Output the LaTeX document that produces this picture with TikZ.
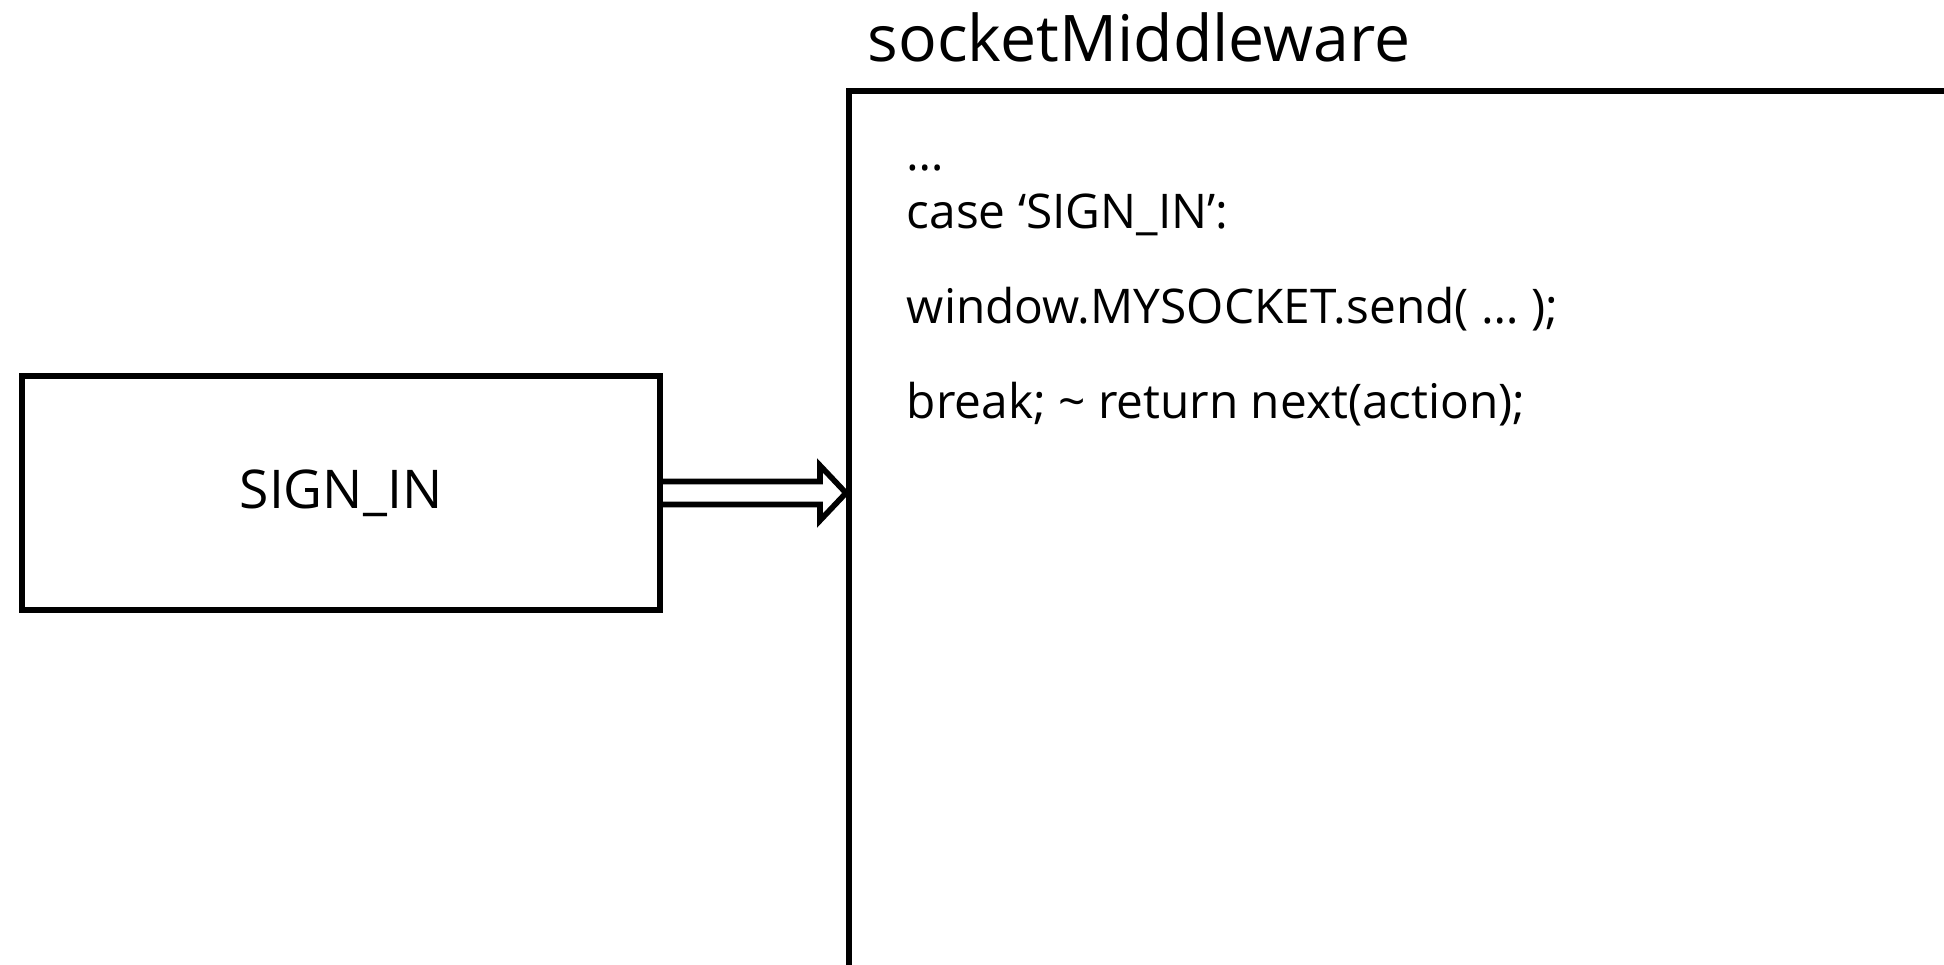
\documentclass[tikz,border=0pt]{standalone}
\usepackage{fontspec}
\setmainfont{Open Sans}
\usetikzlibrary{calc}

\begin{document}
\begin{tikzpicture}[line width=1.6pt,
    box/.style = {draw, rectangle, inner sep=0pt},
    codeline/.style = {anchor=base west, inner sep=0pt, font=\fontsize{13.6}{16}\selectfont}]
    \useasboundingbox (0,0) rectangle (19.44,-9.65);
    \clip (0,0) rectangle (19.44,-9.65);

    \node [box, minimum width=6.38cm, minimum height=2.34cm,
        font=\fontsize{15.2}{18}\selectfont] (signin) at (3.41,-4.93) {SIGN\_IN};
    \node [box, anchor=north west, minimum width=12cm, minimum height=10cm] (mw) at (8.46,-0.88) {};
    \node [anchor=base west, inner sep=0pt, font=\fontsize{18.3}{22}\selectfont]
        (mwtitle) at (8.65,-0.62) {socketMiddleware};

    \node [codeline] (dots) at (9.04,-1.71) {…};
    \node [codeline] (caseline) at (9.04,-2.29) {case ‘SIGN\_IN’:};
    \node [codeline] (sendline) at (9.04,-3.24) {window.MYSOCKET.send( … );};
    \node [codeline] (breakline) at (9.04,-4.19) {break; \textasciitilde\ return next(action);};

    \coordinate (tail) at (signin.east);
    \coordinate (tip) at (signin.east -| mw.west);
    \draw [line join=miter] ($(tail)+(0,0.115)$) -- ($(tip)+(-0.26,0.115)$)
        -- ($(tip)+(-0.26,0.275)$) -- (tip) -- ($(tip)+(-0.26,-0.275)$)
        -- ($(tip)+(-0.26,-0.115)$) -- ($(tail)+(0,-0.115)$);
\end{tikzpicture}
\end{document}
